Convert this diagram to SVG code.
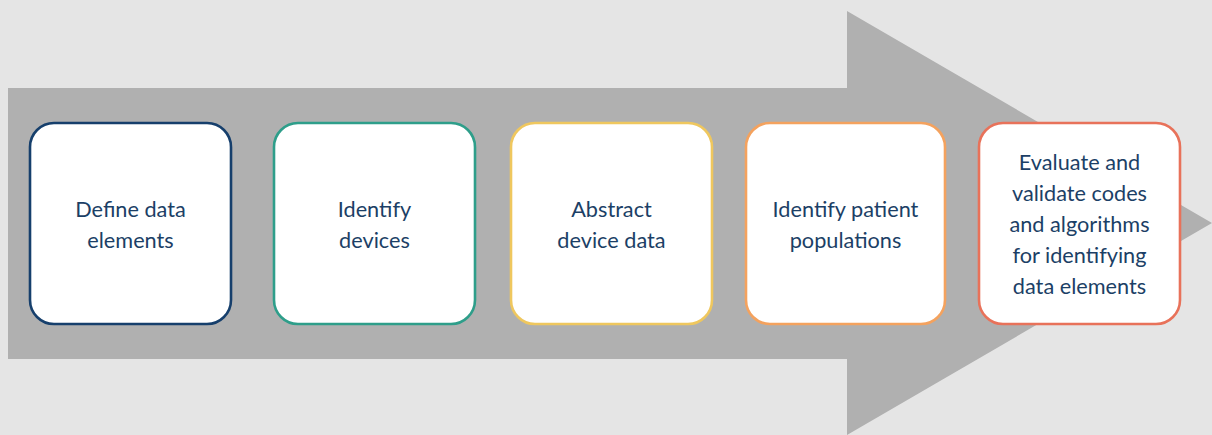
<svg xmlns="http://www.w3.org/2000/svg" width="1212" height="435" viewBox="0 0 1212 435">
  <style>
    .box { fill: #ffffff; stroke-width: 2.6; }
    .lbl { font-family: Lato, "Open Sans", "Liberation Sans", sans-serif; font-size: 21.7px; fill: #1C3F66; text-anchor: middle; }
  </style>
  <!-- background -->
  <rect x="0" y="0" width="1212" height="435" fill="#E5E5E5"/>
  <!-- large process arrow -->
  <g id="connectors">
    <path d="M8 88 H847 V11 L1212 223 L847 435 V359 H8 Z" fill="#B0B0B0"/>
  </g>
  <g id="step1">
    <rect class="box" x="30" y="123" width="201" height="201" rx="24" stroke="#163F6C"/>
    <text class="lbl"><tspan x="130.5" y="217">Define data</tspan><tspan x="130.5" y="248">elements</tspan></text>
  </g>
  <g id="step2">
    <rect class="box" x="274" y="123" width="201" height="201" rx="24" stroke="#2E9E8A"/>
    <text class="lbl"><tspan x="374.5" y="217">Identify</tspan><tspan x="374.5" y="248">devices</tspan></text>
  </g>
  <g id="step3">
    <rect class="box" x="511" y="123" width="201" height="201" rx="24" stroke="#EFC75E"/>
    <text class="lbl"><tspan x="611.5" y="217">Abstract</tspan><tspan x="611.5" y="248">device data</tspan></text>
  </g>
  <g id="step4">
    <rect class="box" x="746" y="123" width="199" height="201" rx="24" stroke="#F4A25E"/>
    <text class="lbl"><tspan x="845.5" y="217">Identify patient</tspan><tspan x="845.5" y="248">populations</tspan></text>
  </g>
  <g id="step5">
    <rect class="box" x="979" y="123" width="201" height="201" rx="24" stroke="#E8725A"/>
    <text class="lbl"><tspan x="1079.5" y="170">Evaluate and</tspan><tspan x="1079.5" y="201">validate codes</tspan><tspan x="1079.5" y="232">and algorithms</tspan><tspan x="1079.5" y="263">for identifying</tspan><tspan x="1079.5" y="294">data elements</tspan></text>
  </g>
</svg>
